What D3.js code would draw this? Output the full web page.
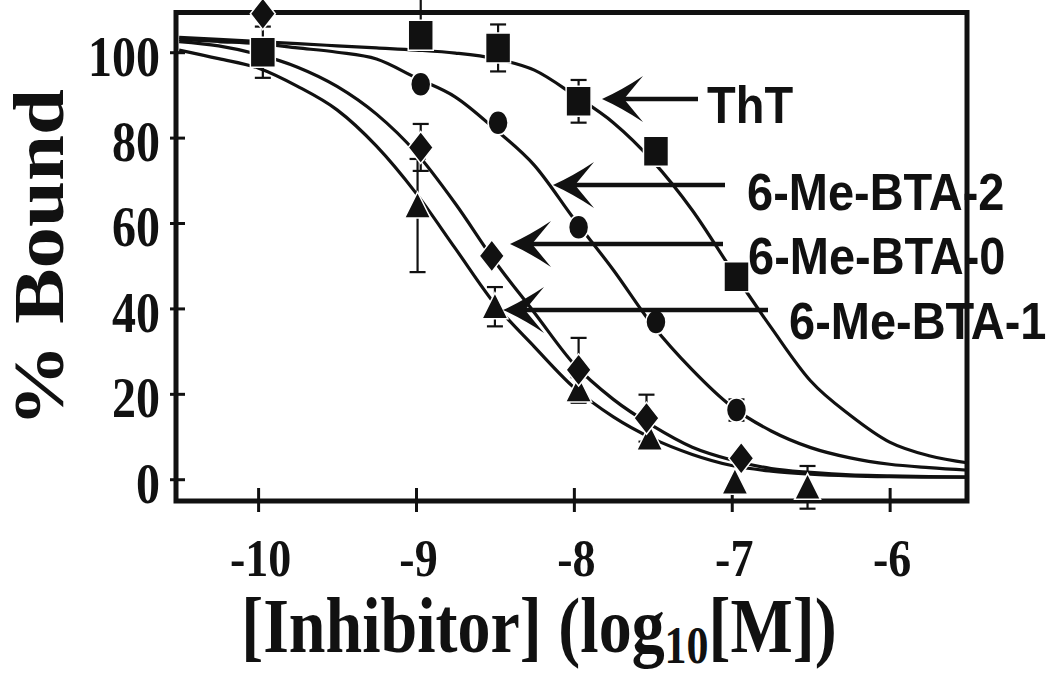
<!DOCTYPE html>
<html>
<head>
<meta charset="utf-8">
<script src="https://cdn.jsdelivr.net/npm/d3@7"></script>
<style>
  html, body { margin: 0; padding: 0; background: #fff; }
  svg { display: block; }
</style>
</head>
<body>
<svg id="chart" width="1050" height="678"></svg>
<script>
// ---------------- DATA ----------------
const xTickValues = [-10, -9, -8, -7, -6];
const yTickValues = [0, 20, 40, 60, 80, 100];

// ThT (squares)
const thtX = [-9.97, -8.97, -8.48, -7.97, -7.48, -6.97];
const thtY = [100, 104, 101, 88.5, 76.8, 47.4];
const thtErrLo = [6, 0, 5.5, 5, 0, 0];
const thtErrHi = [6, 8.5, 5.5, 5, 0, 0];

// 6-Me-BTA-2 (circles)
const bta2X = [-8.97, -8.48, -7.97, -7.48, -6.97];
const bta2Y = [92.5, 83.5, 59, 36.8, 16.2];
const bta2ErrLo = [0, 0, 0, 0, 2.5];
const bta2ErrHi = [0, 0, 0, 0, 2.5];

// 6-Me-BTA-0 (diamonds)
const bta0X = [-9.97, -8.97, -8.52, -7.97, -7.54, -6.94];
const bta0Y = [109, 77.7, 52.3, 25.6, 14.3, 4.9];
const bta0ErrLo = [0, 5.5, 0, 7.5, 5.5, 0];
const bta0ErrHi = [0, 5.5, 0, 7.5, 5.5, 0];

// 6-Me-BTA-1 (triangles)
const bta1X = [-8.99, -8.5, -7.97, -7.52, -6.98, -6.52];
const bta1Y = [64, 40.4, 20.9, 9.6, -0.7, -1.9];
const bta1ErrLo = [15.5, 4.6, 3, 0, 0, 5];
const bta1ErrHi = [11, 4.6, 3, 0, 0, 5];

// fitted curves at 0.25 log steps
const curveX = [-10.5, -10.25, -10, -9.75, -9.5, -9.25, -9, -8.75, -8.5, -8.25, -8,
                -7.75, -7.5, -7.25, -7, -6.75, -6.5, -6.25, -6, -5.75, -5.5];
const thtCurve  = [103.5, 103, 102.5, 102, 101.5, 101, 100.5, 99.8, 98.5, 95.8, 90,
                   83.5, 74.5, 63, 49, 35.5, 23, 15, 8.7, 5.5, 3.8];
const bta2Curve = [103, 102.5, 102, 101, 100, 98.4, 94, 89.5, 82, 73.5, 61,
                   49, 36, 25.6, 17, 11.3, 7.4, 5, 3.5, 2.7, 2.1];
const bta0Curve = [102.5, 101.5, 99.5, 96.5, 92, 85.5, 76.5, 64.5, 51, 39, 27,
                   18.7, 12.5, 7.5, 4.5, 2.5, 1.6, 1, 0.8, 0.6, 0.5];
const bta1Curve = [100.5, 98.5, 96.3, 92, 86.5, 78, 67, 54, 41, 31, 21.5,
                   14.6, 9.5, 5.8, 3.2, 1.9, 1.2, 0.8, 0.6, 0.5, 0.5];

const seriesNames = ["ThT", "6-Me-BTA-2", "6-Me-BTA-0", "6-Me-BTA-1"];

// ---------------- LAYOUT ----------------
const svg = d3.select("#chart");
const plot = { left: 176, right: 967, top: 12.5, bottom: 501 };
const x = d3.scaleLinear().domain([-10.52, -5.51]).range([plot.left, plot.right]);
const y = d3.scaleLinear().domain([-5.1, 109.3]).range([plot.bottom, plot.top]);

const serif = "'Liberation Serif','Times New Roman',Times,serif";
const sans = "'Liberation Sans',Arial,Helvetica,sans-serif";
const tickFmt = d => String(d); // plain hyphen-minus as in the reference

// frame
svg.append("rect")
  .attr("x", plot.left).attr("y", plot.top)
  .attr("width", plot.right - plot.left).attr("height", plot.bottom - plot.top)
  .attr("fill", "none").attr("stroke", "#111").attr("stroke-width", 5);

// y axis (ticks cross the frame)
const yAxisG = svg.append("g").attr("transform", `translate(${plot.left + 9},0)`)
  .call(d3.axisLeft(y).tickValues(yTickValues).tickSize(15).tickPadding(10).tickFormat(tickFmt));
yAxisG.select(".domain").remove();
yAxisG.selectAll(".tick line").attr("stroke", "#111").attr("stroke-width", 3);
yAxisG.selectAll(".tick text")
  .attr("dy", null).attr("y", 19.5)
  .attr("transform", "scale(1,1.17)")
  .attr("font-family", serif).attr("font-weight", "bold").attr("font-size", 48)
  .attr("fill", "#111");

// x axis
const xAxisG = svg.append("g").attr("transform", `translate(0,${plot.bottom - 13})`)
  .call(d3.axisBottom(x).tickValues(xTickValues).tickSize(24).tickFormat(tickFmt));
xAxisG.select(".domain").remove();
xAxisG.selectAll(".tick line").attr("stroke", "#111").attr("stroke-width", 3);
xAxisG.selectAll(".tick text")
  .attr("dy", null).attr("y", 75).attr("x", 2)
  .attr("transform", "scale(1,1.17)")
  .attr("font-family", serif).attr("font-weight", "bold").attr("font-size", 46)
  .attr("fill", "#111");

// axis titles
const xt = svg.append("g").attr("transform", "translate(539,652) scale(1,1.18)")
  .append("text").attr("text-anchor", "middle")
  .attr("font-family", serif).attr("font-weight", "bold").attr("font-size", 66).attr("fill", "#111");
xt.append("tspan").text("[Inhibitor] (log");
xt.append("tspan").attr("font-size", 44).attr("dy", 9).text("10");
xt.append("tspan").attr("dy", -9).text("[M])");

svg.append("g").attr("transform", "translate(63,258) rotate(-90) scale(1.15,1)")
  .append("text").attr("text-anchor", "middle")
  .attr("font-family", serif).attr("font-weight", "bold").attr("font-size", 72).attr("fill", "#111")
  .text("% Bound");

// curves
const line = d3.line().x(d => x(d[0])).y(d => y(d[1])).curve(d3.curveMonotoneX);
[thtCurve, bta2Curve, bta0Curve, bta1Curve].forEach(c => {
  svg.append("path")
    .attr("d", line(curveX.map((v, i) => [v, c[i]])))
    .attr("fill", "none").attr("stroke", "#111").attr("stroke-width", 3.2);
});

// marker shapes
function shapePath(kind) {
  const p = d3.path();
  if (kind === "square") { p.rect(-12.5, -15, 25, 30); }
  else if (kind === "circle") { p.moveTo(10, 0); p.arc(0, 0, 10, 0, 2 * Math.PI); }
  else if (kind === "diamond") { p.moveTo(0, -16); p.lineTo(12.5, 0); p.lineTo(0, 16); p.lineTo(-12.5, 0); p.closePath(); }
  else if (kind === "triangle") { p.moveTo(0, -14); p.lineTo(13, 12); p.lineTo(-13, 12); p.closePath(); }
  return p.toString();
}

const series = [
  { xs: thtX, ys: thtY, lo: thtErrLo, hi: thtErrHi, kind: "square" },
  { xs: bta2X, ys: bta2Y, lo: bta2ErrLo, hi: bta2ErrHi, kind: "circle" },
  { xs: bta1X, ys: bta1Y, lo: bta1ErrLo, hi: bta1ErrHi, kind: "triangle" },
  { xs: bta0X, ys: bta0Y, lo: bta0ErrLo, hi: bta0ErrHi, kind: "diamond" }
];

// error bars
series.forEach(s => {
  const g = svg.append("g").attr("stroke", "#111").attr("stroke-width", 2.2);
  s.xs.forEach((xv, i) => {
    const cx = x(xv);
    if (s.hi[i] > 0) {
      g.append("line").attr("x1", cx).attr("x2", cx).attr("y1", y(s.ys[i])).attr("y2", y(s.ys[i] + s.hi[i]));
      g.append("line").attr("x1", cx - 8).attr("x2", cx + 8).attr("y1", y(s.ys[i] + s.hi[i])).attr("y2", y(s.ys[i] + s.hi[i]));
    }
    if (s.lo[i] > 0) {
      g.append("line").attr("x1", cx).attr("x2", cx).attr("y1", y(s.ys[i])).attr("y2", y(s.ys[i] - s.lo[i]));
      g.append("line").attr("x1", cx - 8).attr("x2", cx + 8).attr("y1", y(s.ys[i] - s.lo[i])).attr("y2", y(s.ys[i] - s.lo[i]));
    }
  });
});

// markers
series.forEach(s => {
  svg.append("g").selectAll("path").data(s.xs.map((v, i) => [v, s.ys[i]])).join("path")
    .attr("d", shapePath(s.kind))
    .attr("transform", d => `translate(${x(d[0])},${y(d[1])})` + (s.kind === "circle" ? " scale(1,1.22)" : ""))
    .attr("fill", "#111").attr("stroke", "#fff").attr("stroke-width", 1.5);
});

// annotations: arrows + labels (pixel layout)
const annotations = [
  { text: seriesNames[0], tipX: 602, y: 99,  endX: 698, tx: 707, ty: 123 },
  { text: seriesNames[1], tipX: 553, y: 185, endX: 725, tx: 747, ty: 210 },
  { text: seriesNames[2], tipX: 510, y: 244, endX: 723, tx: 748, ty: 274 },
  { text: seriesNames[3], tipX: 503, y: 310, endX: 768, tx: 789, ty: 339 }
];
annotations.forEach(a => {
  svg.append("line").attr("x1", a.tipX + 20).attr("x2", a.endX).attr("y1", a.y).attr("y2", a.y)
    .attr("stroke", "#111").attr("stroke-width", 4.5);
  svg.append("path")
    .attr("transform", `translate(${a.tipX},${a.y})`)
    .attr("d", "M0,0 Q20,-9 41,-23 L22,0 L41,23 Q20,9 0,0 Z")
    .attr("fill", "#111");
  svg.append("g").attr("transform", `translate(${a.tx},${a.ty}) scale(1,1.12)`)
    .append("text").attr("font-family", sans).attr("font-weight", "bold").attr("font-size", 47)
    .attr("fill", "#111").text(a.text);
});
</script>
</body>
</html>
